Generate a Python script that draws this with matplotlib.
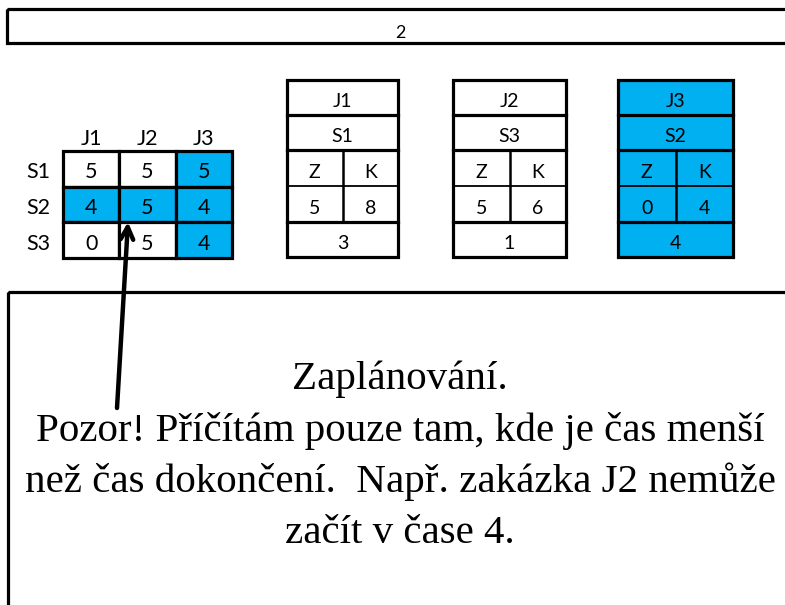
import matplotlib
matplotlib.use("Agg")
import matplotlib.pyplot as plt
from matplotlib.patches import Rectangle

# ---- data ----
top_label = "2"
jobs = ["J1", "J2", "J3"]
machines = ["S1", "S2", "S3"]
times = [[5, 5, 5],
         [4, 5, 4],
         [0, 5, 4]]
highlight = [[0, 0, 1],
             [1, 1, 1],
             [0, 0, 1]]
card_jobs = ["J1", "J2", "J3"]
card_machines = ["S1", "S3", "S2"]
card_header = ["Z", "K"]
card_start = [5, 5, 0]
card_end = [8, 6, 4]
card_value = [3, 1, 4]
card_highlight = [False, False, True]
note_lines = ["Zaplánování.",
              "Pozor! Příčítám pouze tam, kde je čas menší",
              "než čas dokončení.  Např. zakázka J2 nemůže",
              "začít v čase 4."]

BLUE = "#00B0F0"
SANS = ["Lato", "DejaVu Sans"]
SERIF = ["Liberation Serif", "DejaVu Serif"]
FS_M = 15.5
FS_C = 14
THICK = 2.3
THIN = 1.3
OFF = 8  # baseline offset from row bottom

fig = plt.figure(figsize=(7.85, 6.05), dpi=100)
ax = fig.add_axes([0, 0, 1, 1])
ax.set_xlim(0, 785)
ax.set_ylim(605, 0)
ax.axis("off")

# top banner
ax.add_patch(Rectangle((7, 9), 800, 34, fill=False, lw=THICK, ec="black"))
ax.text(400, 38, top_label, ha="center", va="baseline", fontsize=13, family=SANS)

# matrix
mx0, my0, cw, ch = 63, 151, 56.3, 35.5
for j, lab in enumerate(jobs):
    ax.text(mx0 + cw * (j + 0.5), 145, lab, ha="center", va="baseline",
            fontsize=FS_M, family=SANS)
for i, lab in enumerate(machines):
    ax.text(38, my0 + ch * (i + 1) - OFF, lab, ha="center", va="baseline",
            fontsize=FS_M, family=SANS)
    for j in range(len(jobs)):
        fc = BLUE if highlight[i][j] else "white"
        ax.add_patch(Rectangle((mx0 + cw * j, my0 + ch * i), cw, ch,
                               fc=fc, ec="black", lw=THICK))
        ax.text(mx0 + cw * (j + 0.5), my0 + ch * (i + 1) - OFF, str(times[i][j]),
                ha="center", va="baseline", fontsize=FS_M, family=SANS)

# cards
card_x = [287, 453, 618]
card_w = [111, 113, 115]
rows_y = [80, 115, 150, 186, 222, 257]
for k in range(len(card_jobs)):
    x0, w = card_x[k], card_w[k]
    fc = BLUE if card_highlight[k] else "white"
    ax.add_patch(Rectangle((x0, rows_y[0]), w, rows_y[-1] - rows_y[0],
                           fc=fc, ec="black", lw=THICK, zorder=1))
    for y in (rows_y[1], rows_y[2], rows_y[4]):
        ax.plot([x0, x0 + w], [y, y], color="black", lw=THICK, zorder=2)
    ax.plot([x0, x0 + w], [rows_y[3], rows_y[3]], color="black", lw=THIN, zorder=2)
    xm = x0 + w / 2
    ax.plot([xm, xm], [rows_y[2], rows_y[4]], color="black", lw=1.8, zorder=2)
    by = [rows_y[r + 1] - OFF for r in range(5)]
    kw = dict(ha="center", va="baseline", fontsize=FS_C, family=SANS)
    ax.text(xm, by[0], card_jobs[k], **kw)
    ax.text(xm, by[1], card_machines[k], **kw)
    ax.text(x0 + w / 4, by[2], card_header[0], **kw)
    ax.text(x0 + 3 * w / 4, by[2], card_header[1], **kw)
    ax.text(x0 + w / 4, by[3], str(card_start[k]), **kw)
    ax.text(x0 + 3 * w / 4, by[3], str(card_end[k]), **kw)
    ax.text(xm, by[4], str(card_value[k]), **kw)

# bottom box
ax.add_patch(Rectangle((8, 292), 800, 400, fill=False, lw=THICK, ec="black"))
baselines = [389, 441, 492, 543]
for line, yb in zip(note_lines, baselines):
    ax.text(400, yb, line, ha="center", va="baseline",
            fontsize=29.5, family=SERIF)

# arrow
ax.annotate("", xy=(128, 222), xytext=(117, 408),
            arrowprops=dict(arrowstyle="->,head_length=0.9,head_width=0.45",
                            lw=3.2, color="black", shrinkA=0, shrinkB=0),
            zorder=5)

fig.savefig("out.png", dpi=100)
